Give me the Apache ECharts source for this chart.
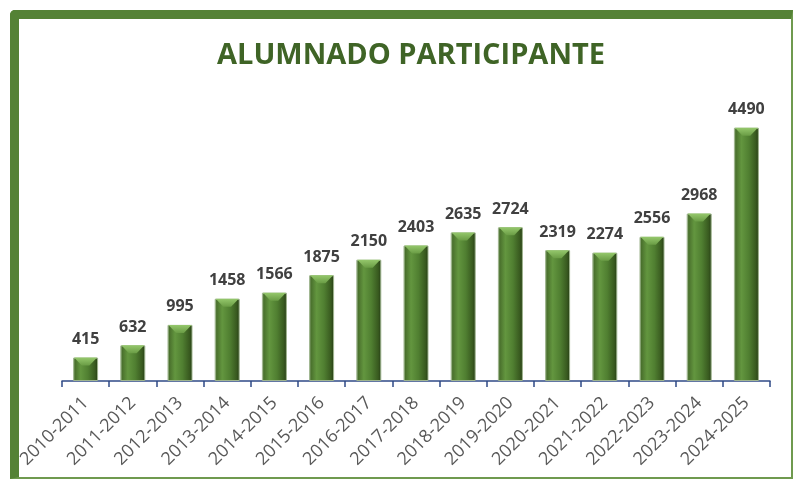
<!DOCTYPE html>
<html>
<head>
<meta charset="utf-8">
<script src="https://cdn.jsdelivr.net/npm/echarts@6/dist/echarts.min.js"></script>
<style>
	html, body { margin: 0; padding: 0; background: #fff; }
	#wrap { position: relative; width: 795px; height: 482px; }
	#grafico { position: absolute; left: 0; top: 0; width: 795px; height: 482px; }
	#marco {
		position: absolute; left: 10px; top: 10px; width: 772px; height: 458px;
		border-left: 9px solid #548235; border-top: 9px solid #548235;
		border-right: 2px solid #6f9a4f; border-bottom: 2px solid #6f9a4f;
		border-top-left-radius: 5px; pointer-events: none;
	}
</style>
</head>
<body>
<div id="wrap">
	<div id="grafico"></div>
	<div id="marco"></div>
</div>
<script>
var cursos = ['2010-2011', '2011-2012', '2012-2013', '2013-2014', '2014-2015', '2015-2016', '2016-2017',
	'2017-2018', '2018-2019', '2019-2020', '2020-2021', '2021-2022', '2022-2023', '2023-2024', '2024-2025'];
var alumnado = [415, 632, 995, 1458, 1566, 1875, 2150, 2403, 2635, 2724, 2319, 2274, 2556, 2968, 4490];

var chart = echarts.init(document.getElementById('grafico'));

// relleno de las barras, con un poco de volumen
var verde = new echarts.graphic.LinearGradient(0, 0, 1, 0, [
	{ offset: 0, color: '#8aa679' },
	{ offset: 0.08, color: '#4a712d' },
	{ offset: 0.3, color: '#63963f' },
	{ offset: 0.6, color: '#507f31' },
	{ offset: 0.88, color: '#38591f' },
	{ offset: 1, color: '#243a14' }
]);
var tapa = new echarts.graphic.LinearGradient(0, 0, 0, 1, [
	{ offset: 0, color: '#95c86c' },
	{ offset: 1, color: '#6a9c45' }
]);

var option = {
	animation: false,
	title: {
		text: 'ALUMNADO PARTICIPANTE',
		left: 212,
		top: 36,
		textStyle: {
			fontFamily: 'Open Sans',
			fontSize: 29,
			fontWeight: 'bold',
			color: '#3f6426'
		}
	},
	grid: { left: 62, right: 25, top: 99, bottom: 101 },
	xAxis: {
		type: 'category',
		data: cursos,
		axisLine: { lineStyle: { color: '#2f4a86', width: 1.5 } },
		axisTick: { show: true, length: 6, lineStyle: { color: '#2f4a86', width: 1.5 } },
		axisLabel: {
			rotate: 45,
			interval: 0,
			margin: 19,
			fontFamily: 'Open Sans',
			fontSize: 18,
			color: '#595959'
		}
	},
	yAxis: {
		type: 'value',
		min: 0,
		max: 5000,
		show: false,
		splitLine: { show: false }
	},
	series: [
		{
			name: 'Alumnado',
			type: 'bar',
			data: alumnado,
			barWidth: 25,
			itemStyle: {
				color: verde,
				borderColor: '#9fb58f',
				borderWidth: 1
			},
			label: {
				show: true,
				position: 'top',
				distance: 10,
				fontFamily: 'Open Sans',
				fontSize: 16,
				fontWeight: 'bold',
				color: '#404040'
			}
		},
		{
			name: 'tapa',
			type: 'pictorialBar',
			data: alumnado,
			symbol: 'path://M0,0 L24,0 L16,8 L8,8 Z',
			symbolSize: [23, 8],
			symbolPosition: 'end',
			symbolOffset: [0, 0],
			itemStyle: { color: tapa },
			z: 3,
			silent: true
		}
	]
};

chart.setOption(option);
</script>
</body>
</html>
